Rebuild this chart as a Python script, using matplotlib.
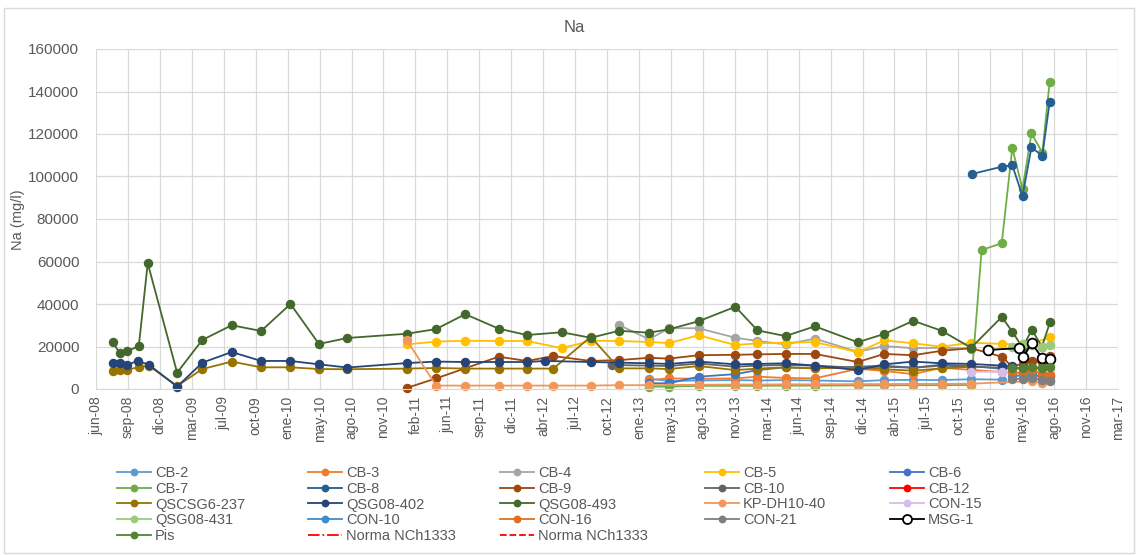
import matplotlib
matplotlib.use('Agg')
import matplotlib.pyplot as plt
import matplotlib.dates as mdates
from matplotlib.lines import Line2D
from matplotlib.patches import Rectangle
import numpy as np
import datetime as dt

plt.rcParams['font.family'] = ['Liberation Sans', 'DejaVu Sans']

# ---------------- data ----------------
TITLE = 'Na'
Y_LABEL = 'Na (mg/l)'
MESES = ['ene', 'feb', 'mar', 'abr', 'may', 'jun', 'jul', 'ago', 'sep', 'oct', 'nov', 'dic']
X_START = '2008-06-01'
X_STEP_DAYS = 100
X_N_STEPS = 32
Y_TICKS = [0, 20000, 40000, 60000, 80000, 100000, 120000, 140000, 160000]

cb2_dates = ['2013-02-27', '2013-04-30', '2013-08-01', '2013-11-24', '2014-02-01', '2014-04-30',
             '2014-07-31', '2014-12-12', '2015-03-05', '2015-06-04', '2015-09-01', '2015-12-02', '2016-03-07']
cb2_vals = [4800, 3800, 4000, 4200, 4000, 4200, 4000, 3600, 4200, 4300, 4200, 4600, 4400]

cb3_dates = ['2013-02-27', '2013-04-30', '2013-08-01', '2013-11-24', '2014-02-01', '2014-04-30',
             '2014-07-31', '2014-12-12', '2015-03-05', '2015-06-04', '2015-09-01', '2015-12-02', '2016-03-07']
cb3_vals = [4200, 5000, 4800, 5000, 5800, 5200, 5000, 9500, 8500, 7000, 10000, 9000, 8000]

cb4_dates = ['2012-11-25', '2013-02-27', '2013-04-30', '2013-08-01', '2013-11-24', '2014-02-01',
             '2014-04-30', '2014-07-31', '2014-12-12', '2015-03-05', '2015-06-04', '2015-09-01', '2015-12-02']
cb4_vals = [30100, 23400, 28600, 28600, 24100, 22600, 21000, 23700, 17500, 20200, 19200, 19400, 19000]

cb5_dates = ['2011-01-30', '2011-05-02', '2011-08-01', '2011-11-14', '2012-02-10', '2012-05-30',
             '2012-08-28', '2012-11-25', '2013-02-27', '2013-04-30', '2013-08-01', '2013-11-24',
             '2014-02-01', '2014-04-30', '2014-07-31', '2014-12-12', '2015-03-05', '2015-06-04',
             '2015-09-01', '2015-12-02', '2016-03-07', '2016-05-11', '2016-06-09', '2016-08-05']
cb5_vals = [21000, 22300, 22700, 22600, 22600, 19200, 22700, 22600, 22100, 21600, 25300, 20700,
            21500, 21800, 22100, 17300, 22900, 21500, 19900, 21800, 21200, 21000, 21500, 24300]

cb6_dates = ['2013-02-27', '2013-04-30', '2013-08-01', '2013-11-24', '2014-02-01', '2014-04-30',
             '2014-07-31', '2014-12-12', '2015-03-05', '2015-06-04', '2015-09-01', '2015-12-02', '2016-03-07']
cb6_vals = [2700, 2700, 5800, 7000, 8900, 10200, 9700, 10500, 11000, 10000, 11500, 10800, 9500]

cb7_dates = ['2013-02-27', '2013-04-30', '2013-08-01', '2013-11-24', '2014-02-01', '2014-04-30',
             '2014-07-31', '2014-12-12', '2015-03-05', '2015-06-04', '2015-09-01', '2015-12-02',
             '2016-01-04', '2016-03-07', '2016-04-09', '2016-05-11', '2016-06-08', '2016-07-12', '2016-08-04']
cb7_vals = [1100, 1100, 1500, 1500, 1500, 1600, 1600, 1700, 1700, 1800, 1800, 1900,
            65400, 68600, 113400, 94000, 120300, 111200, 144500]

cb8_dates = ['2015-12-05', '2016-03-07', '2016-04-09', '2016-05-11', '2016-06-08', '2016-07-12', '2016-08-04']
cb8_vals = [101200, 104600, 105300, 90800, 113700, 109800, 135100]

cb9_dates = ['2011-01-30', '2011-05-02', '2011-11-14', '2012-02-10', '2012-05-03', '2012-08-28',
             '2012-11-25', '2013-02-27', '2013-04-30', '2013-08-01', '2013-11-24', '2014-02-01',
             '2014-04-30', '2014-07-31', '2014-12-12', '2015-03-05', '2015-06-04', '2015-09-01',
             '2015-12-02', '2016-03-07', '2016-04-09', '2016-05-11', '2016-06-09', '2016-07-11', '2016-08-05']
cb9_vals = [500, 5000, 15200, 13200, 15500, 13200, 13600, 14700, 14300, 15900, 16100, 16300,
            16500, 16500, 12700, 16500, 15900, 18000, 19200, 15200, 10500, 12000, 13000, 12500, 15500]

cb10_dates = ['2012-11-04', '2013-02-27', '2013-04-30', '2013-08-01', '2013-11-24', '2014-02-01',
              '2014-04-30', '2014-07-31', '2014-12-12', '2015-03-05', '2015-06-04', '2015-09-01',
              '2015-12-02', '2016-03-07', '2016-05-11', '2016-07-11']
cb10_vals = [11300, 11000, 10800, 12000, 10500, 11000, 11300, 11000, 10000, 10500, 10000, 11000,
             10500, 10000, 9500, 9800]

cb12_dates = []
cb12_vals = []

qscsg6_237_dates = ['2008-07-23', '2008-08-15', '2008-09-05', '2008-10-13', '2008-11-13', '2009-02-10',
                    '2009-04-30', '2009-07-31', '2009-10-31', '2010-01-31', '2010-04-30', '2010-07-28',
                    '2011-01-30', '2011-05-02', '2011-08-01', '2011-11-14', '2012-02-10', '2012-05-03',
                    '2012-08-28', '2012-11-25', '2013-02-27', '2013-04-30', '2013-08-01', '2013-11-24',
                    '2014-02-01', '2014-04-30', '2014-07-31', '2014-12-12', '2015-03-05', '2015-06-04',
                    '2015-09-01', '2015-12-02']
qscsg6_237_vals = [8600, 9100, 9100, 10200, 11000, 1400, 9400, 12900, 10200, 10200, 9400, 9300,
                   9600, 9900, 9600, 9600, 9600, 9600, 24600, 9700, 9700, 9400, 10800, 8900,
                   9600, 10200, 9700, 10000, 9300, 8600, 9700, 10500]

qsg08_402_dates = ['2008-07-23', '2008-08-15', '2008-09-05', '2008-10-09', '2008-11-13', '2009-02-10',
                   '2009-04-30', '2009-07-31', '2009-10-31', '2010-01-31', '2010-04-30', '2010-07-28',
                   '2011-01-30', '2011-05-02', '2011-08-01', '2011-11-14', '2012-02-10', '2012-04-06',
                   '2012-08-28', '2012-11-25', '2013-02-27', '2013-04-30', '2013-08-01', '2013-11-24',
                   '2014-02-01', '2014-04-30', '2014-07-31', '2014-12-12', '2015-03-05', '2015-06-04',
                   '2015-09-01', '2015-12-02', '2016-03-07', '2016-04-09']
qsg08_402_vals = [12100, 12100, 11300, 13200, 11500, 1100, 12400, 17400, 13200, 13200, 11600, 10100,
                  12200, 12900, 12700, 12700, 12700, 13200, 12700, 12400, 12100, 11800, 12900, 11600,
                  11800, 12100, 11000, 8900, 11600, 12900, 12100, 11800, 11000, 10800]

qsg08_493_dates = ['2008-07-23', '2008-08-15', '2008-09-05', '2008-10-13', '2008-11-10', '2009-02-10',
                   '2009-04-30', '2009-07-31', '2009-10-31', '2010-01-31', '2010-04-30', '2010-07-28',
                   '2011-01-30', '2011-05-02', '2011-08-01', '2011-11-14', '2012-02-10', '2012-05-30',
                   '2012-08-28', '2012-11-25', '2013-02-27', '2013-04-30', '2013-08-01', '2013-11-24',
                   '2014-02-01', '2014-04-30', '2014-07-31', '2014-12-12', '2015-03-05', '2015-06-04',
                   '2015-09-01', '2015-12-02', '2016-03-07', '2016-04-09', '2016-05-11', '2016-06-09',
                   '2016-07-11', '2016-08-05']
qsg08_493_vals = [22000, 16800, 17700, 20200, 59200, 7700, 23100, 30000, 27300, 40000, 21200, 24000,
                  26000, 28200, 35200, 28400, 25400, 26700, 24100, 27400, 26500, 28100, 31900, 38700,
                  27600, 24900, 29500, 22000, 25900, 32100, 27400, 19400, 33900, 27000, 19500, 27800,
                  20000, 31400]

kp_dh10_40_dates = ['2011-01-30', '2011-05-02', '2011-08-01', '2011-11-14', '2012-02-10', '2012-05-03',
                    '2012-08-28', '2012-11-25', '2013-02-27', '2013-08-01', '2013-11-24', '2014-02-01',
                    '2014-04-30', '2014-07-31', '2014-12-12', '2015-03-05', '2015-06-04', '2015-09-01',
                    '2015-12-02', '2016-06-09', '2016-07-11', '2016-08-05']
kp_dh10_40_vals = [23000, 1600, 1600, 1600, 1600, 1600, 1600, 1800, 1800, 2000, 2100, 2100,
                   2200, 2200, 2300, 2300, 2400, 2400, 2500, 3700, 2800, 4200]

con15_dates = ['2015-12-02', '2016-03-07', '2016-05-11', '2016-07-11']
con15_vals = [8100, 8100, 7000, 6500]

qsg08_431_dates = ['2016-04-09', '2016-05-11', '2016-06-09', '2016-07-11', '2016-08-05']
qsg08_431_vals = [20000, 21000, 20500, 19800, 20600]

con10_dates = ['2016-04-09', '2016-05-11', '2016-06-09', '2016-07-11', '2016-08-05']
con10_vals = [6000, 6500, 7000, 5500, 6000]

con16_dates = ['2016-04-09', '2016-05-11', '2016-06-09', '2016-07-11', '2016-08-05']
con16_vals = [8000, 7500, 9000, 7000, 6500]

con21_dates = ['2016-04-09', '2016-05-11', '2016-06-09', '2016-07-11', '2016-08-05']
con21_vals = [4700, 4700, 5000, 4300, 4000]

msg1_dates = ['2016-01-25', '2016-05-01', '2016-05-14', '2016-06-09', '2016-07-11', '2016-08-05']
msg1_vals = [18400, 19200, 15200, 21500, 14700, 14000]

pis_dates = ['2016-04-09', '2016-05-11', '2016-06-09', '2016-07-11', '2016-08-05']
pis_vals = [10000, 10000, 10300, 10000, 10300]

# ---------------- styles ----------------
series = [
    ('CB-2', cb2_dates, cb2_vals, '#5B9BD5'),
    ('CB-3', cb3_dates, cb3_vals, '#ED7D31'),
    ('CB-4', cb4_dates, cb4_vals, '#A5A5A5'),
    ('CB-5', cb5_dates, cb5_vals, '#FFC000'),
    ('CB-6', cb6_dates, cb6_vals, '#4472C4'),
    ('CB-7', cb7_dates, cb7_vals, '#70AD47'),
    ('CB-8', cb8_dates, cb8_vals, '#255E91'),
    ('CB-9', cb9_dates, cb9_vals, '#9E480E'),
    ('CB-10', cb10_dates, cb10_vals, '#636363'),
    ('CB-12', cb12_dates, cb12_vals, '#FF0000'),
    ('QSCSG6-237', qscsg6_237_dates, qscsg6_237_vals, '#997300'),
    ('QSG08-402', qsg08_402_dates, qsg08_402_vals, '#264478'),
    ('QSG08-493', qsg08_493_dates, qsg08_493_vals, '#43682B'),
    ('KP-DH10-40', kp_dh10_40_dates, kp_dh10_40_vals, '#F1975A'),
    ('CON-15', con15_dates, con15_vals, '#D5BCEA'),
    ('QSG08-431', qsg08_431_dates, qsg08_431_vals, '#9BCB78'),
    ('CON-10', con10_dates, con10_vals, '#3C8DD0'),
    ('CON-16', con16_dates, con16_vals, '#E0701F'),
    ('CON-21', con21_dates, con21_vals, '#7F7F7F'),
    ('MSG-1', msg1_dates, msg1_vals, '#000000'),
    ('Pis', pis_dates, pis_vals, '#548235'),
]

TXT = '#595959'
GRID = '#D9D9D9'
W, H = 1138, 555

fig = plt.figure(figsize=(W / 100, H / 100), dpi=100)
ax = fig.add_axes([96 / W, 1 - 389 / H, (1118 - 96) / W, (389 - 49) / H])

def to_num(ds):
    return mdates.date2num([dt.datetime.strptime(d, '%Y-%m-%d') for d in ds]) if ds else []

handles = {}
for name, ds, vs, col in series:
    x = to_num(ds)
    if name == 'MSG-1':
        kw = dict(color=col, marker='o', ms=7, mfc='white', mec='black', mew=1.3, lw=1.3)
        hk = dict(color=col, marker='o', ms=6.5, mfc='white', mec='black', mew=1.3, lw=1.3)
    else:
        kw = dict(color=col, marker='o', ms=5.8, mfc=col, mec=col, lw=1.3)
        hk = dict(color=col, marker='o', ms=4.6, mfc=col, mec=col, lw=1.3)
    ax.plot(x, vs, clip_on=False, **kw)
    handles[name] = Line2D([], [], **hk)

handles['Norma1'] = Line2D([], [], color='#FF0000', ls='-.', lw=1.3)
handles['Norma2'] = Line2D([], [], color='#FF0000', ls='--', lw=1.3)

x0 = mdates.date2num(dt.datetime.strptime(X_START, '%Y-%m-%d'))
ticks = x0 + np.arange(X_N_STEPS + 1) * X_STEP_DAYS
ax.set_xlim(ticks[0], ticks[-1])
ax.set_xticks(ticks)
lbls = []
for t in ticks:
    d = mdates.num2date(t)
    lbls.append(f"{MESES[d.month - 1]}-{d.year % 100:02d}")
ax.set_xticklabels(lbls, rotation=90, fontsize=10, color=TXT)

ax.set_ylim(0, 160000)
ax.set_yticks(Y_TICKS)
ax.set_yticklabels([str(v) for v in Y_TICKS], fontsize=11, color=TXT)
ax.tick_params(axis='both', length=0)
ax.tick_params(axis='y', pad=12)
ax.tick_params(axis='x', pad=5)
ax.grid(True, color=GRID, lw=0.9)
ax.set_axisbelow(True)
for s in ax.spines.values():
    s.set_visible(False)
ax.spines['bottom'].set_visible(True)
ax.spines['bottom'].set_color(GRID)

fig.text(574 / W, 1 - 28 / H, TITLE, ha='center', va='center', fontsize=12, color=TXT)
fig.text(18 / W, 1 - 220 / H, Y_LABEL, ha='center', va='center', rotation=90, fontsize=10.5, color=TXT)

cols = [
    (117, [('CB-2', 'CB-2'), ('CB-7', 'CB-7'), ('QSCSG6-237', 'QSCSG6-237'), ('QSG08-431', 'QSG08-431'), ('Pis', 'Pis')]),
    (308, [('CB-3', 'CB-3'), ('CB-8', 'CB-8'), ('QSG08-402', 'QSG08-402'), ('CON-10', 'CON-10'), ('Norma1', 'Norma NCh1333')]),
    (500, [('CB-4', 'CB-4'), ('CB-9', 'CB-9'), ('QSG08-493', 'QSG08-493'), ('CON-16', 'CON-16'), ('Norma2', 'Norma NCh1333')]),
    (705, [('CB-5', 'CB-5'), ('CB-10', 'CB-10'), ('KP-DH10-40', 'KP-DH10-40'), ('CON-21', 'CON-21')]),
    (890, [('CB-6', 'CB-6'), ('CB-12', 'CB-12'), ('CON-15', 'CON-15'), ('MSG-1', 'MSG-1')]),
]
for xpx, items in cols:
    leg = fig.legend([handles[k] for k, _ in items], [l for _, l in items],
                     loc='upper left', bbox_to_anchor=(xpx / W, 1 - 466 / H),
                     frameon=False, fontsize=10.5, handlelength=2.35, handletextpad=0.25,
                     borderpad=0, borderaxespad=0, labelspacing=0.12)
    for t in leg.get_texts():
        t.set_color(TXT)

fig.add_artist(Rectangle((4 / W, 2 / H), (W - 8) / W, (H - 10) / H, transform=fig.transFigure,
                         fill=False, ec=GRID, lw=1))

fig.savefig('out.png', dpi=100)
